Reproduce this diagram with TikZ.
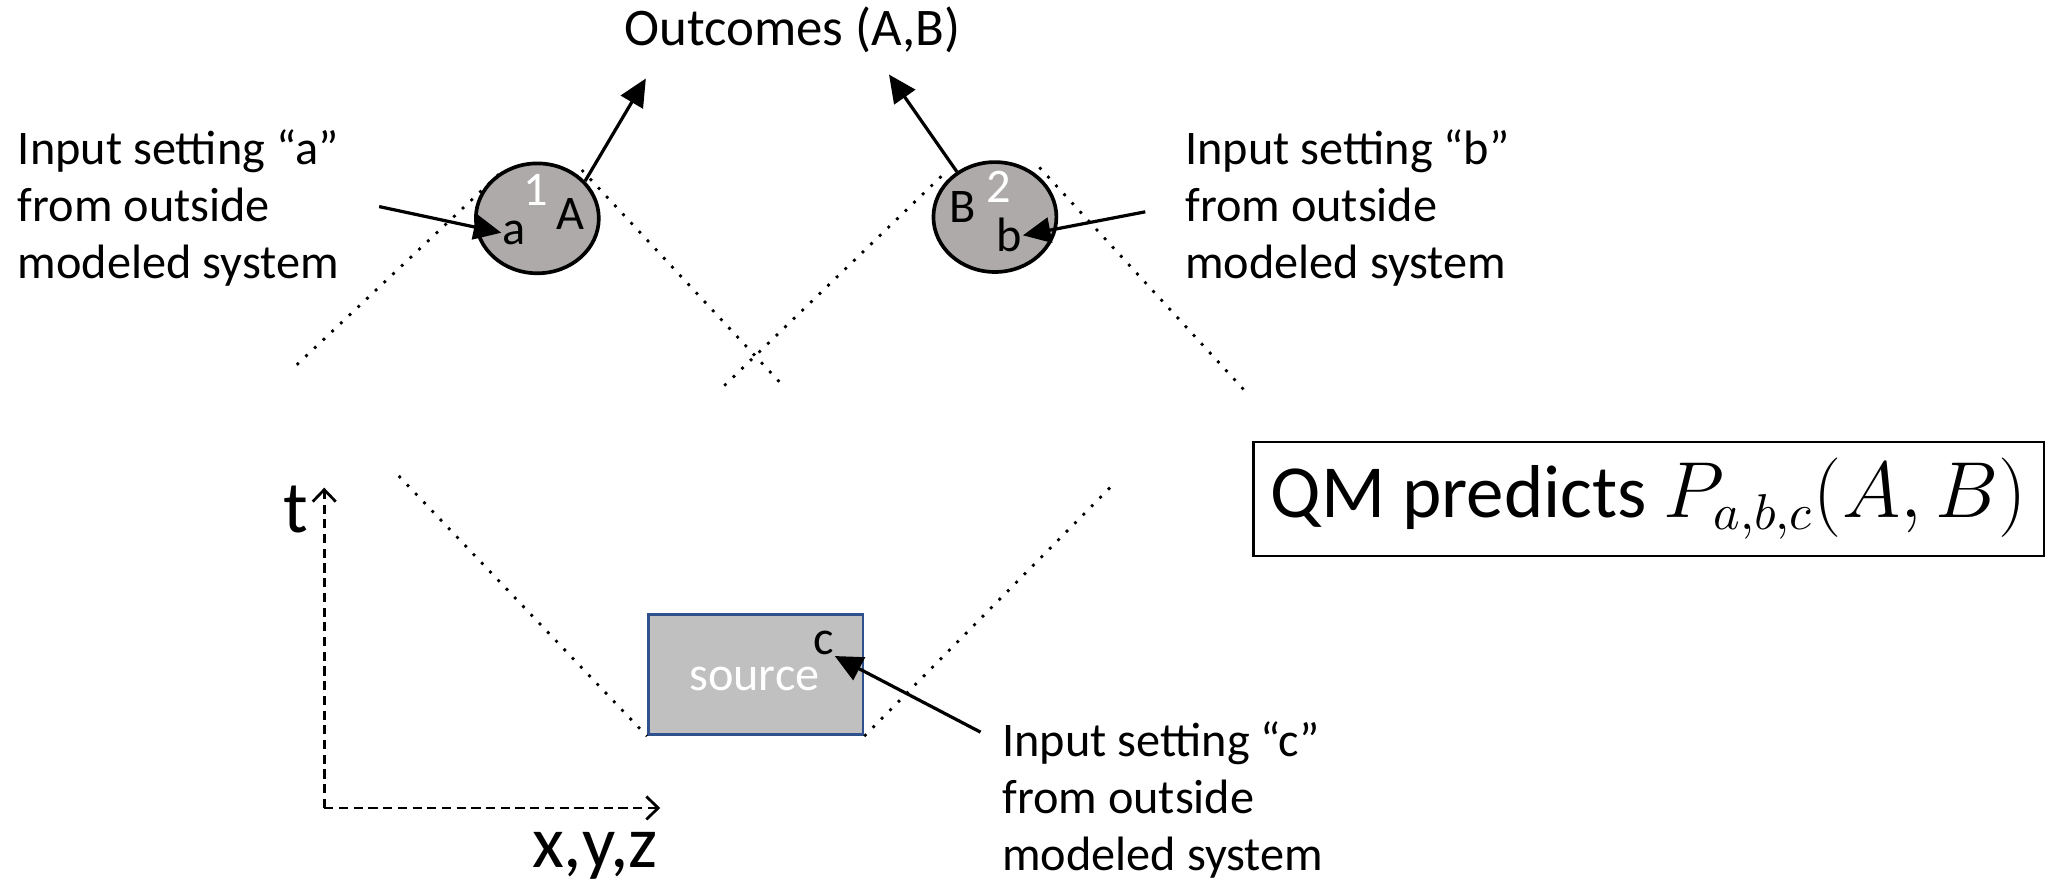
\documentclass[tikz,border=0pt]{standalone}
\usepackage{fontspec}
\setmainfont{Carlito}
\usetikzlibrary{arrows.meta,shapes.geometric}
\definecolor{detgray}{RGB}{174,170,170}
\definecolor{srcgray}{RGB}{192,192,192}
\definecolor{srcblue}{RGB}{47,82,143}
\tikzset{
  txt/.style={font=\fontsize{10.5}{12.4}\selectfont,inner sep=0pt},
  note/.style={txt,align=left,anchor=west},
  det/.style={ellipse,draw,line width=0.8pt,fill=detgray,minimum width=0.94cm,minimum height=0.84cm,inner sep=0pt},
  cone/.style={dotted,line width=0.6pt},
  feed/.style={-{Triangle[length=6pt,width=5.5pt]},line width=0.7pt},
  axis/.style={dashed,dash pattern=on 2pt off 1.2pt,line width=0.6pt,-{Straight Barb[length=2.6pt,width=5pt]}}
}
\begin{document}
\begin{tikzpicture}[x=0.01cm,y=-0.01cm]
  \useasboundingbox (0,0) rectangle (1568,678);
  % light cones
  \draw[cone] (227,279) -- (385,130);
  \draw[cone] (445,130) -- (597,293);
  \draw[cone] (554,295) -- (725,130);
  \draw[cone] (795,128) -- (955,302);
  % detectors
  \node[det] (det1) at (411,167) {};
  \node[det] (det2) at (761,166) {};
  \node[txt,text=white] (n1) at (410,145) {1};
  \node[txt] (seta) at (393,178) {a};
  \node[txt] (outA) at (436,164) {A};
  \node[txt,text=white] (n2) at (764,143) {2};
  \node[txt] (outB) at (736,158) {B};
  \node[txt] (setb) at (772,180) {b};
  % source
  \node[draw=srcblue,fill=srcgray,line width=0.6pt,minimum width=1.64cm,minimum height=0.92cm,inner sep=0pt] (src) at (578,516) {};
  \node[txt,text=white] (srclabel) at (577,519) {source};
  \node[txt] (setc) at (630,492) {c};
  \coordinate (pastL) at (305,364);
  \coordinate (pastR) at (850,372);
  \draw[cone] (pastL) -- (src.south west);
  \draw[cone] (src.south east) -- (pastR);
  % labels
  \node[txt,font=\fontsize{11.5}{14}\selectfont] (outs) at (606,23) {Outcomes (A,B)};
  \node[note] (ina) at (13,159) {Input setting “a”\\from outside\\modeled system};
  \node[note] (inb) at (906,159) {Input setting “b”\\from outside\\modeled system};
  \node[note] (inc) at (766,612) {Input setting “c”\\from outside\\modeled system};
  \node[draw,line width=0.5pt,minimum width=6.04cm,minimum height=0.87cm,font=\fontsize{16.3}{19}\selectfont] (qm) at (1261,381.5) {QM predicts $P_{a,b,c}(A,B)$};
  % arrows
  \coordinate (fa) at (290,158);
  \coordinate (fb) at (876,162);
  \coordinate (fc) at (750,560);
  \coordinate (tA) at (494,60);
  \coordinate (tB) at (680,57);
  \begin{scope}
    \draw[feed] (fa) -- (seta.west);
    \draw[feed] (fb) -- (setb.east);
    \draw[feed] (fc) -- (setc.south east);
    \draw[feed] (det1.38) -- (tA);
    \draw[feed] (det2.130) -- (tB);
  \end{scope}
  % axes
  \coordinate (orig) at (248,618);
  \coordinate (tend) at (248,373);
  \coordinate (xend) at (505,618);
  \draw[axis] (orig) -- (tend);
  \draw[axis] (orig) -- (xend);
  \node[txt,font=\fontsize{16}{19}\selectfont] (tlab) at (226,390) {t};
  \node[txt,font=\fontsize{16}{19}\selectfont] (xlab) at (455,655) {x,y,z};
\end{tikzpicture}
\end{document}
